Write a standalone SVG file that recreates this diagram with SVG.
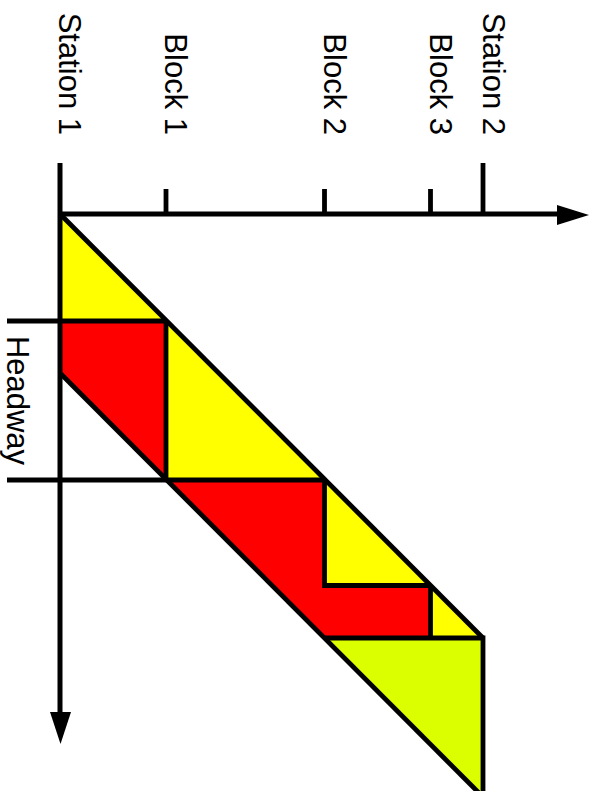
<svg xmlns="http://www.w3.org/2000/svg" width="595" height="791" viewBox="0 0 595 791">
<style>
.ln{stroke:#000;stroke-width:4.8;fill:none;stroke-linecap:butt}
.ax{stroke:#000;stroke-width:5;fill:none}
.lbl{font-family:"Liberation Sans",Arial,sans-serif;font-size:31px;fill:#000}
.y{fill:#ffff00}.r{fill:#ff0000}.l{fill:#dcff00}
</style>
<rect width="595" height="791" fill="#fff"/>
<g id="regions">
<polygon class="y" points="60,214 166,321 60,321"/>
<polygon class="r" points="60,321 166,321 166,480 60,373"/>
<polygon class="y" points="166,321 324.5,480 166,480"/>
<polygon class="r" points="166,480 324.5,480 324.5,585.5 430.5,585.5 430.5,638 324.5,638"/>
<polygon class="y" points="324.5,480 430.5,585.5 324.5,585.5"/>
<polygon class="y" points="430.5,585.5 483,638 430.5,638"/>
<polygon class="l" points="324.5,638 483,638 483,797"/>
</g>
<g id="connectors">
<path class="ln" d="M60,214 L483,638"/>
<path class="ln" d="M60,373 L483,797"/>
<path class="ln" d="M7,321 H166"/>
<path class="ln" d="M7,480 H324.5"/>
<path class="ln" d="M166,321 V480"/>
<path class="ln" d="M324.5,480 V585.5 H430.5"/>
<path class="ln" d="M430.5,585.5 V638"/>
<path class="ln" d="M324.5,638 H483 V797"/>
</g>
<g id="axes">
<path class="ax" d="M60,163 V714"/>
<polygon points="50,712 71,712 60.5,744"/>
<path class="ax" d="M60,214 H559"/>
<polygon points="557,205 557,225 589,215"/>
<path class="ln" d="M166,189 V214 M324.5,189 V214 M430.5,189 V214"/>
<path class="ln" d="M483,163 V214"/>
</g>
<g id="station1"><text class="lbl" x="59" y="135" text-anchor="end" transform="rotate(90 59 135)">Station 1</text></g>
<g id="block1"><text class="lbl" x="165" y="135" text-anchor="end" transform="rotate(90 165 135)">Block 1</text></g>
<g id="block2"><text class="lbl" x="324" y="135" text-anchor="end" transform="rotate(90 324 135)">Block 2</text></g>
<g id="block3"><text class="lbl" x="430" y="135" text-anchor="end" transform="rotate(90 430 135)">Block 3</text></g>
<g id="station2"><text class="lbl" x="483" y="135" text-anchor="end" transform="rotate(90 483 135)">Station 2</text></g>
<g id="headway"><text class="lbl" x="7" y="400.5" text-anchor="middle" transform="rotate(90 7 400.5)">Headway</text></g>
</svg>
